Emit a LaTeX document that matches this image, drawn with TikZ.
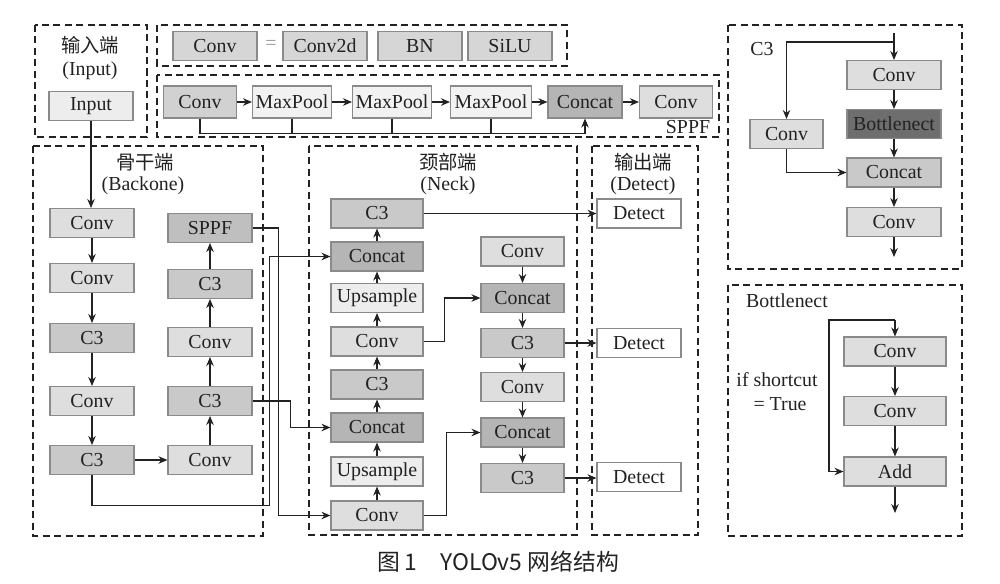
\documentclass[tikz,border=0pt]{standalone}
\usepackage{fontspec}
\setmainfont{Liberation Serif}
\newfontfamily\cjk{Noto Sans CJK SC}
\usetikzlibrary{arrows.meta,calc}

\definecolor{edge}{HTML}{8A8A8A}
\definecolor{ink}{HTML}{222222}
\tikzset{
  blk/.style={draw=edge, line width=0.6pt, minimum height=0.58cm, inner sep=0pt,
    text=ink, font=\fontsize{11.3}{13}\selectfont},
  wd/.style={minimum width=#1*0.02cm},
  lite/.style={blk, fill=black!7},
  conv/.style={blk, fill=black!13},
  cthree/.style={blk, fill=black!21},
  cat/.style={blk, fill=black!29},
  grp/.style={draw=ink, line width=0.6pt, dash pattern=on 4pt off 2.5pt},
  lab/.style={text=ink, font=\fontsize{11.3}{13}\selectfont},
  cjklab/.style={text=ink, font=\cjk\fontsize{11}{13}\selectfont},
  arr/.style={draw=ink, line width=0.6pt, -{Stealth[length=1.8mm,width=1.5mm]}},
  ln/.style={draw=ink, line width=0.6pt}
}

\begin{document}
\begin{tikzpicture}[x=0.02cm, y=-0.02cm]
	\useasboundingbox (0,0) rectangle (1000,583);
	% dashed groups
	\draw[grp] (35,25) rectangle (147,137);
	\draw[grp] (157,25) rectangle (567,66);
	\draw[grp] (157,75) rectangle (719,137);
	\draw[grp] (33,146) rectangle (263,536);
	\draw[grp] (309,146) rectangle (577,535);
	\draw[grp] (592,146) rectangle (698,535);
	\draw[grp] (728,25) rectangle (962,269);
	\draw[grp] (728,285) rectangle (962,536);

	% input
	\node[cjklab] (tIn) at (90,45) {输入端};
	\node[lab] (tIn2) at (90,71) {(Input)};
	\node[lite, wd=84] (In) at (91,106) {Input};

	% Conv legend
	\node[conv, wd=84, fill=black!16] (L1) at (215,46) {Conv};
	\node[lab, text=black!40] (Leq) at (271,45) {=};
	\node[conv, wd=84, fill=black!16] (L2) at (325,46) {Conv2d};
	\node[conv, wd=84, fill=black!16] (L3) at (420,46) {BN};
	\node[conv, wd=84, fill=black!16] (L4) at (510,46) {SiLU};

	% SPPF
	\node[cthree, wd=73, minimum height=0.64cm, fill=black!18] (S1) at (200,102) {Conv};
	\node[lite, wd=79, minimum height=0.64cm, fill=black!5] (S2) at (292,102) {MaxPool};
	\node[lite, wd=79, minimum height=0.64cm, fill=black!5] (S3) at (392,102) {MaxPool};
	\node[lite, wd=81, minimum height=0.64cm, fill=black!5] (S4) at (491,102) {MaxPool};
	\node[cat, wd=74, minimum height=0.64cm] (S5) at (585,102) {Concat};
	\node[conv, wd=73, minimum height=0.64cm] (S6) at (676,102) {Conv};
	\node[lab] (tS) at (688,127) {SPPF};
	\foreach \a/\b in {S1/S2,S2/S3,S3/S4,S4/S5,S5/S6} \draw[arr] (\a) -- (\b);
	\draw[arr] (S1.south) -- ++(0,15) -| (S5.south);
	\foreach \a in {S2,S3,S4} \draw[ln] (\a.south) -- ++(0,15);

	% backbone
	\node[cjklab] (tB) at (145,162) {骨干端};
	\node[lab] (tB2) at (143,186) {(Backone)};
	\node[conv, wd=84] (B1) at (92,223) {Conv};
	\node[conv, wd=84] (B2) at (92,278) {Conv};
	\node[cthree, wd=84] (B3) at (92,338) {C3};
	\node[conv, wd=84] (B4) at (92,401) {Conv};
	\node[cthree, wd=84] (B5) at (92,460) {C3};
	\node[conv, wd=84] (B6) at (210,460) {Conv};
	\node[cthree, wd=84] (B7) at (210,401) {C3};
	\node[conv, wd=84] (B8) at (210,342) {Conv};
	\node[cthree, wd=84] (B9) at (210,284) {C3};
	\node[cthree, wd=84, fill=black!25] (B10) at (210,228) {SPPF};
	\draw[arr] (In.south) -- (In.south |- B1.north);
	\foreach \a/\b in {B1/B2,B2/B3,B3/B4,B4/B5,B5/B6,B6/B7,B7/B8,B8/B9,B9/B10}
		\draw[arr] (\a) -- (\b);

	% neck
	\node[cjklab] (tN) at (448,162) {颈部端};
	\node[lab] (tN2) at (448,186) {(Neck)};
	\node[conv, wd=92] (N1) at (377,515.5) {Conv};
	\node[lite, wd=92] (N2) at (377,471.5) {Upsample};
	\node[cat, wd=92] (N3) at (377,427.5) {Concat};
	\node[cthree, wd=92] (N4) at (377,384.5) {C3};
	\node[conv, wd=92] (N5) at (377,341.5) {Conv};
	\node[lite, wd=92] (N6) at (377,298) {Upsample};
	\node[cat, wd=92] (N7) at (377,256.5) {Concat};
	\node[cthree, wd=92] (N8) at (377,213.5) {C3};
	\node[conv, wd=83] (N9) at (522.5,251.5) {Conv};
	\node[cat, wd=83] (N10) at (522.5,298) {Concat};
	\node[cthree, wd=83] (N11) at (522.5,343) {C3};
	\node[conv, wd=83] (N12) at (522.5,387) {Conv};
	\node[cat, wd=83] (N13) at (522.5,432.5) {Concat};
	\node[cthree, wd=83] (N14) at (522.5,478) {C3};
	\foreach \a/\b in {N1/N2,N2/N3,N3/N4,N4/N5,N5/N6,N6/N7,N7/N8,
		N9/N10,N10/N11,N11/N12,N12/N13,N13/N14}
		\draw[arr] (\a) -- (\b);

	% detect
	\node[cjklab] (tD) at (643,162) {输出端};
	\node[lab] (tD2) at (643,186) {(Detect)};
	\node[blk, wd=84, fill=white] (D1) at (639,213.5) {Detect};
	\node[blk, wd=84, fill=white] (D2) at (639,343) {Detect};
	\node[blk, wd=84, fill=white] (D3) at (639,477) {Detect};

	% backbone -> neck -> detect
	\draw[arr] (B10.east) -- ++(26,0) |- (N1.west);
	\draw[arr] (B5.south) -- ++(0,30) -| ($(N7.west)+(-61,0)$) -- (N7.west);
	\draw[arr] (B7.east) -- ++(38,0) |- (N3.west);
	\draw[arr] (N5.east) -- ++(21,0) |- (N10.west);
	\draw[arr] (N1.east) -- ++(23,0) |- (N13.west);
	\draw[arr] (N8.east) -- (N8.east -| D1.west);
	\draw[arr] (N11.east) -- (N11.east -| D2.west);
	\draw[arr] (N14.east) -- (N14.east -| D3.west);

	% C3 block
	\node[lab] (tC) at (762,49) {C3};
	\node[conv, wd=94] (C1) at (894,75) {Conv};
	\node[blk, wd=94, fill=black!57] (C2) at (894,124) {Bottlenect};
	\node[cthree, wd=94] (C3) at (894,172.5) {Concat};
	\node[conv, wd=94] (C4) at (894,222) {Conv};
	\node[conv, wd=73] (CL) at (786.5,134) {Conv};
	\coordinate (Cin) at (894,33);
	\coordinate (Cbr) at (894,42);
	\coordinate (Cout) at (894,257);
	\draw[arr] (Cin) -- (C1.north);
	\draw[arr] (Cbr) -| (CL.north);
	\draw[arr] (CL.south) |- (C3.west);
	\foreach \a/\b in {C1/C2,C2/C3,C3/C4} \draw[arr] (\a) -- (\b);
	\draw[arr] (C4.south) -- (Cout);

	% Bottleneck block
	\node[lab] (tK) at (787,301) {Bottlenect};
	\node[lab] (tK2) at (777,380) {if shortcut};
	\node[lab] (tK3) at (780,404) {= True};
	\node[conv, wd=102] (K1) at (895,351.5) {Conv};
	\node[conv, wd=102] (K2) at (895,411) {Conv};
	\node[conv, wd=102] (K3) at (895,471.5) {Add};
	\coordinate (Kin) at (895,320);
	\coordinate (Kout) at (895,513);
	\draw[arr] (Kin) -- (K1.north);
	\draw[arr] (Kin) -- ++(-66,0) |- (K3.west);
	\foreach \a/\b in {K1/K2,K2/K3} \draw[arr] (\a) -- (\b);
	\draw[arr] (K3.south) -- (Kout);

	% caption
	\node[text=ink, font=\cjk\fontsize{13}{15}\selectfont] (cap) at (498,562) {图 1\quad YOLOv5 网络结构};
\end{tikzpicture}
\end{document}
